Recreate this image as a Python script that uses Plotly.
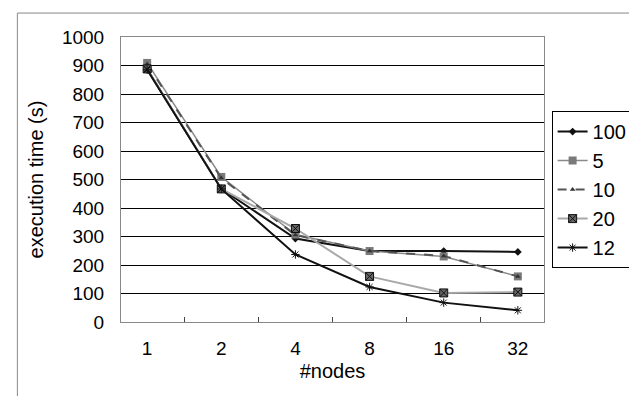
import plotly.graph_objects as go

categories = ["1", "2", "4", "8", "16", "32"]
s100 = [888, 467, 293, 249, 249, 246]
s5 = [909, 509, 307, 249, 230, 160]
s10 = [905, 505, 305, 249, 232, 160]
s20 = [888, 467, 328, 160, 102, 105]
s12 = [885, 467, 237, 123, 68, 41]
yticks = list(range(0, 1001, 100))

FONT = "Liberation Sans"

fig = go.Figure()
fig.add_trace(go.Scatter(x=categories, y=s100, name="100", mode="lines+markers",
                         line=dict(color="#111111", width=2),
                         marker=dict(symbol="diamond", size=6, color="#111111")))
fig.add_trace(go.Scatter(x=categories, y=s5, name="5", mode="lines+markers",
                         line=dict(color="#8a8a8a", width=1.5),
                         marker=dict(symbol="square", size=8, color="#7a7a7a")))
fig.add_trace(go.Scatter(x=categories, y=s10, name="10", mode="lines+markers",
                         line=dict(color="#555555", width=2, dash="dash"),
                         marker=dict(symbol="triangle-up", size=5, color="#333333")))
fig.add_trace(go.Scatter(x=categories, y=s20, name="20", mode="lines+markers",
                         line=dict(color="#a8a8a8", width=2),
                         marker=dict(symbol="square-x", size=8, color="#666666",
                                     line=dict(color="#111111", width=1))))
fig.add_trace(go.Scatter(x=categories, y=s12, name="12", mode="lines+markers",
                         line=dict(color="#111111", width=2),
                         marker=dict(symbol="asterisk-open", size=7,
                                     line=dict(color="#666666", width=1))))

fig.update_layout(
    width=637, height=396,
    margin=dict(l=113, r=84, t=29, b=82),
    paper_bgcolor="white", plot_bgcolor="white",
    font=dict(family=FONT, size=19, color="black"),
    showlegend=True,
    legend=dict(x=1.018, y=0.74, xanchor="left", yanchor="top",
                bordercolor="black", borderwidth=1, bgcolor="white",
                font=dict(family=FONT, size=20, color="black"),
                tracegroupgap=0, itemwidth=30),
    xaxis=dict(type="category", categoryorder="array", categoryarray=categories,
               showline=True, linecolor="#888888", linewidth=1, mirror=True,
               ticks="inside", tickson="boundaries", ticklen=5, tickcolor="#444444",
               showgrid=False, ticklabelstandoff=9,
               tickfont=dict(family=FONT, size=19, color="black"),
               title=dict(text="#nodes", font=dict(family=FONT, size=20), standoff=6)),
    yaxis=dict(range=[0, 1000], tickvals=yticks, ticktext=[str(v) for v in yticks],
               showline=True, linecolor="#888888", linewidth=1, mirror=True,
               showgrid=True, gridcolor="black", gridwidth=1, zeroline=False,
               ticks="", ticklabelstandoff=12,
               tickfont=dict(family=FONT, size=19, color="black"),
               title=dict(text="execution time (s)", font=dict(family=FONT, size=20), standoff=12)),
    shapes=[dict(type="rect", xref="paper", yref="paper",
                 x0=-0.245, x1=1.3, y0=-0.5, y1=1.084,
                 line=dict(color="#888888", width=1), fillcolor="rgba(0,0,0,0)", layer="below")],
)

fig.write_html("out.html")
